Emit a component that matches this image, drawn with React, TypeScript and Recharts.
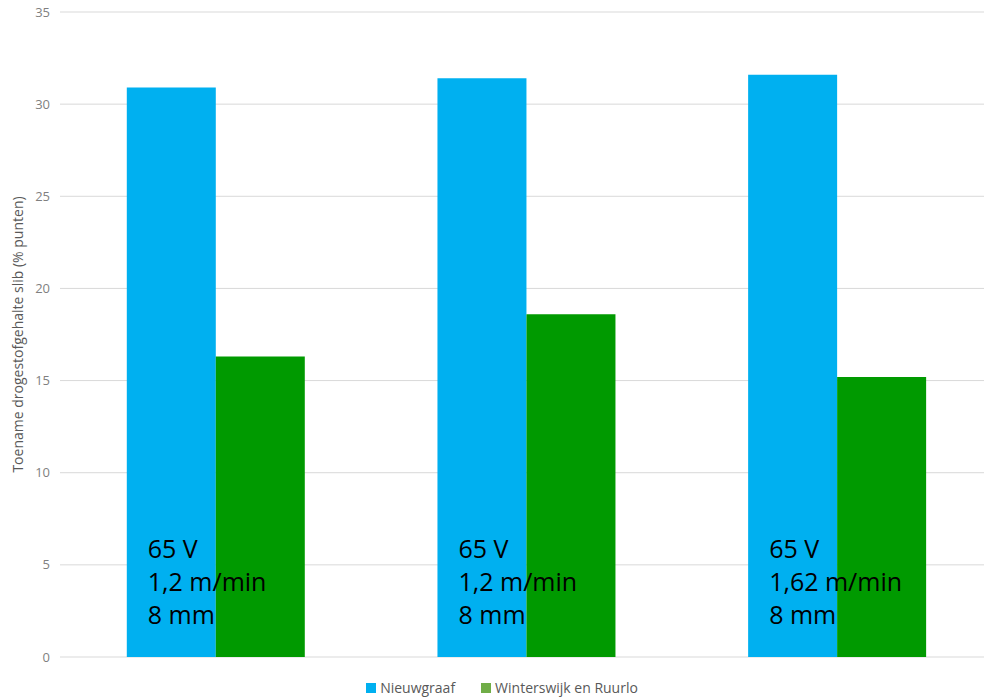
import React from "react";
import { BarChart, Bar, XAxis, YAxis, CartesianGrid, LabelList } from "recharts";

const settings = ["a", "b", "c"];
const nieuwgraaf = [30.9, 31.4, 31.6];
const winterswijk = [16.3, 18.6, 15.2];
const voltage = ["65 V", "65 V", "65 V"];
const speed = ["1,2 m/min", "1,2 m/min", "1,62 m/min"];
const gap = ["8 mm", "8 mm", "8 mm"];
const yTicks = [0, 5, 10, 15, 20, 25, 30, 35];

const BLUE = "#00B0F0";
const GREEN = "#009A00";
const LEGEND_GREEN = "#70AD47";
const FONT = "'Open Sans', sans-serif";

const data = settings.map((s, i) => ({
  setting: s,
  nieuwgraaf: nieuwgraaf[i],
  winterswijk: winterswijk[i],
  lines: [voltage[i], speed[i], gap[i]],
}));

// three-line settings note drawn inside the blue bar
function SettingsNote(props: any) {
  const { x, index } = props;
  const lines: string[] = data[index].lines;
  return (
    <g>
      {lines.map((t, k) => (
        <text key={k} x={x + 21} y={558 + k * 33} fontSize={25} fontFamily={FONT} fill="#000">
          {t}
        </text>
      ))}
    </g>
  );
}

function AxisTitle(props: any) {
  const { viewBox } = props;
  const cy = viewBox.y + viewBox.height / 2;
  return (
    <text x={23} y={cy} transform={`rotate(-90 23 ${cy})`} textAnchor="middle" fontSize={14} fontFamily={FONT} fill="#595959">
      Toename drogestofgehalte slib (% punten)
    </text>
  );
}

export default function App() {
  return (
    <div style={{ position: "absolute", left: 0, top: 0, width: 984, height: 697, overflow: "hidden", background: "#fff" }}>
      <BarChart
        width={999}
        height={697}
        data={data}
        margin={{ top: 12, right: 7, left: 0, bottom: 40 }}
        barCategoryGap="21.5%"
        barGap={0}
      >
        <CartesianGrid vertical={false} stroke="#d9d9d9" />
        <XAxis dataKey="setting" hide />
        <YAxis
          width={60}
          domain={[0, 35]}
          ticks={yTicks}
          axisLine={false}
          tickLine={false}
          tickMargin={4}
          tick={{ fontSize: 13, fill: "#7f7f7f", fontFamily: FONT }}
          label={<AxisTitle />}
        />
        <Bar dataKey="nieuwgraaf" fill={BLUE} isAnimationActive={false}>
          <LabelList dataKey="nieuwgraaf" content={<SettingsNote />} />
        </Bar>
        <Bar dataKey="winterswijk" fill={GREEN} isAnimationActive={false} />
      </BarChart>
      <div
        style={{
          position: "absolute",
          top: 678,
          left: 0,
          width: 984,
          display: "flex",
          justifyContent: "center",
          gap: 26,
          fontFamily: FONT,
          fontSize: 14,
          color: "#595959",
          paddingLeft: 20,
          boxSizing: "border-box",
        }}
      >
        <span style={{ display: "flex", alignItems: "center" }}>
          <span style={{ width: 10, height: 10, background: BLUE, marginRight: 4, display: "inline-block" }} />
          Nieuwgraaf
        </span>
        <span style={{ display: "flex", alignItems: "center" }}>
          <span style={{ width: 10, height: 10, background: LEGEND_GREEN, marginRight: 4, display: "inline-block" }} />
          Winterswijk en Ruurlo
        </span>
      </div>
    </div>
  );
}
